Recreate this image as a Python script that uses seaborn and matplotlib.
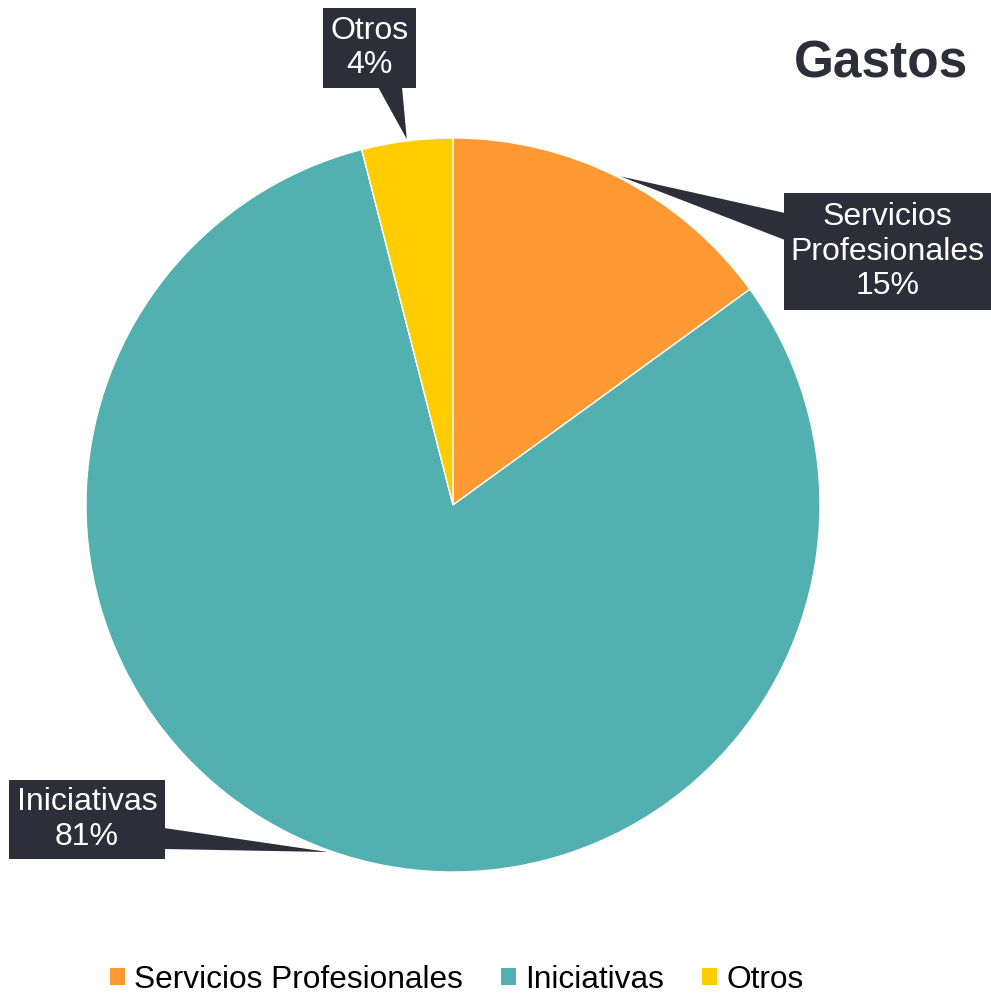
import numpy as np
import matplotlib
matplotlib.use("Agg")
import matplotlib.pyplot as plt
from matplotlib.patches import Rectangle, Polygon, Patch
import seaborn as sns

# --- Data ---
categories = ["Servicios Profesionales", "Iniciativas", "Otros"]
box_labels = ["Servicios\nProfesionales", "Iniciativas", "Otros"]
shares = [15, 81, 4]
colours = ["#FF9933", "#52B0B0", "#FFCC00"]
title = "Gastos"

sns.set_theme(style="white")
plt.rcParams["font.family"] = ["Liberation Sans", "DejaVu Sans"]

W, H = 991, 997
CX, CY, R = 453, 505, 367  # pie centre / radius in pixels
DARK = "#2E2E3A"

fig = plt.figure(figsize=(W / 100, H / 100), dpi=100)
ax = fig.add_axes([0, 0, 1, 1])

def px(x, y):
    # pixel position (top-left origin) -> data units of the pie axes
    return ((x - CX) / R, (CY - y) / R)

wedges, _ = ax.pie(shares, colors=sns.color_palette(colours), startangle=90,
                   counterclock=False, radius=1, center=(0, 0),
                   wedgeprops=dict(edgecolor="white", linewidth=1))
ax.set_xlim(-CX / R, (W - CX) / R)
ax.set_ylim(-(H - CY) / R, CY / R)
ax.set_aspect("equal")
ax.axis("off")

# callout boxes: (left, top, right, bottom) in pixels, and the pointer base on the box edge
boxes = {
    "Servicios Profesionales": ((784, 193, 991, 310), [(785, 213), (785, 240)]),
    "Iniciativas": ((9, 780, 165, 859), [(164, 828), (164, 849)]),
    "Otros": ((323, 8, 416, 88), [(378, 87), (402, 87)]),
}

for w, cat, lab, pct in zip(wedges, categories, box_labels, shares):
    (l, t, r, b), base = boxes[cat]
    mid = np.deg2rad((w.theta1 + w.theta2) / 2)
    tip = (np.cos(mid) * 1.005, np.sin(mid) * 1.005)
    ax.add_patch(Polygon([px(*base[0]), px(*base[1]), tip], closed=True,
                         facecolor=DARK, edgecolor="none", zorder=5))
    x0, y0 = px(l, b)
    x1, y1 = px(r, t)
    ax.add_patch(Rectangle((x0, y0), x1 - x0, y1 - y0, facecolor=DARK,
                           edgecolor="none", zorder=6))
    ax.text((x0 + x1) / 2, (y0 + y1) / 2, f"{lab}\n{pct}%", color="white",
            fontsize=23, ha="center", va="center", linespacing=1.2, zorder=7)

fig.text(968 / W, 1 - 77 / H, title, fontsize=37, fontweight="bold",
         color=DARK, ha="right", va="baseline")

handles = [Patch(facecolor=c, edgecolor="none") for c in colours]
fig.legend(handles, categories, loc="center", bbox_to_anchor=(457 / W, 1 - 980 / H),
           ncol=3, frameon=False, fontsize=22.8, handlelength=0.47, handleheight=0.47,
           handletextpad=0.3, columnspacing=1.2, labelcolor="black",
           borderpad=0.1)

fig.savefig("out.png", dpi=100, facecolor="white")
